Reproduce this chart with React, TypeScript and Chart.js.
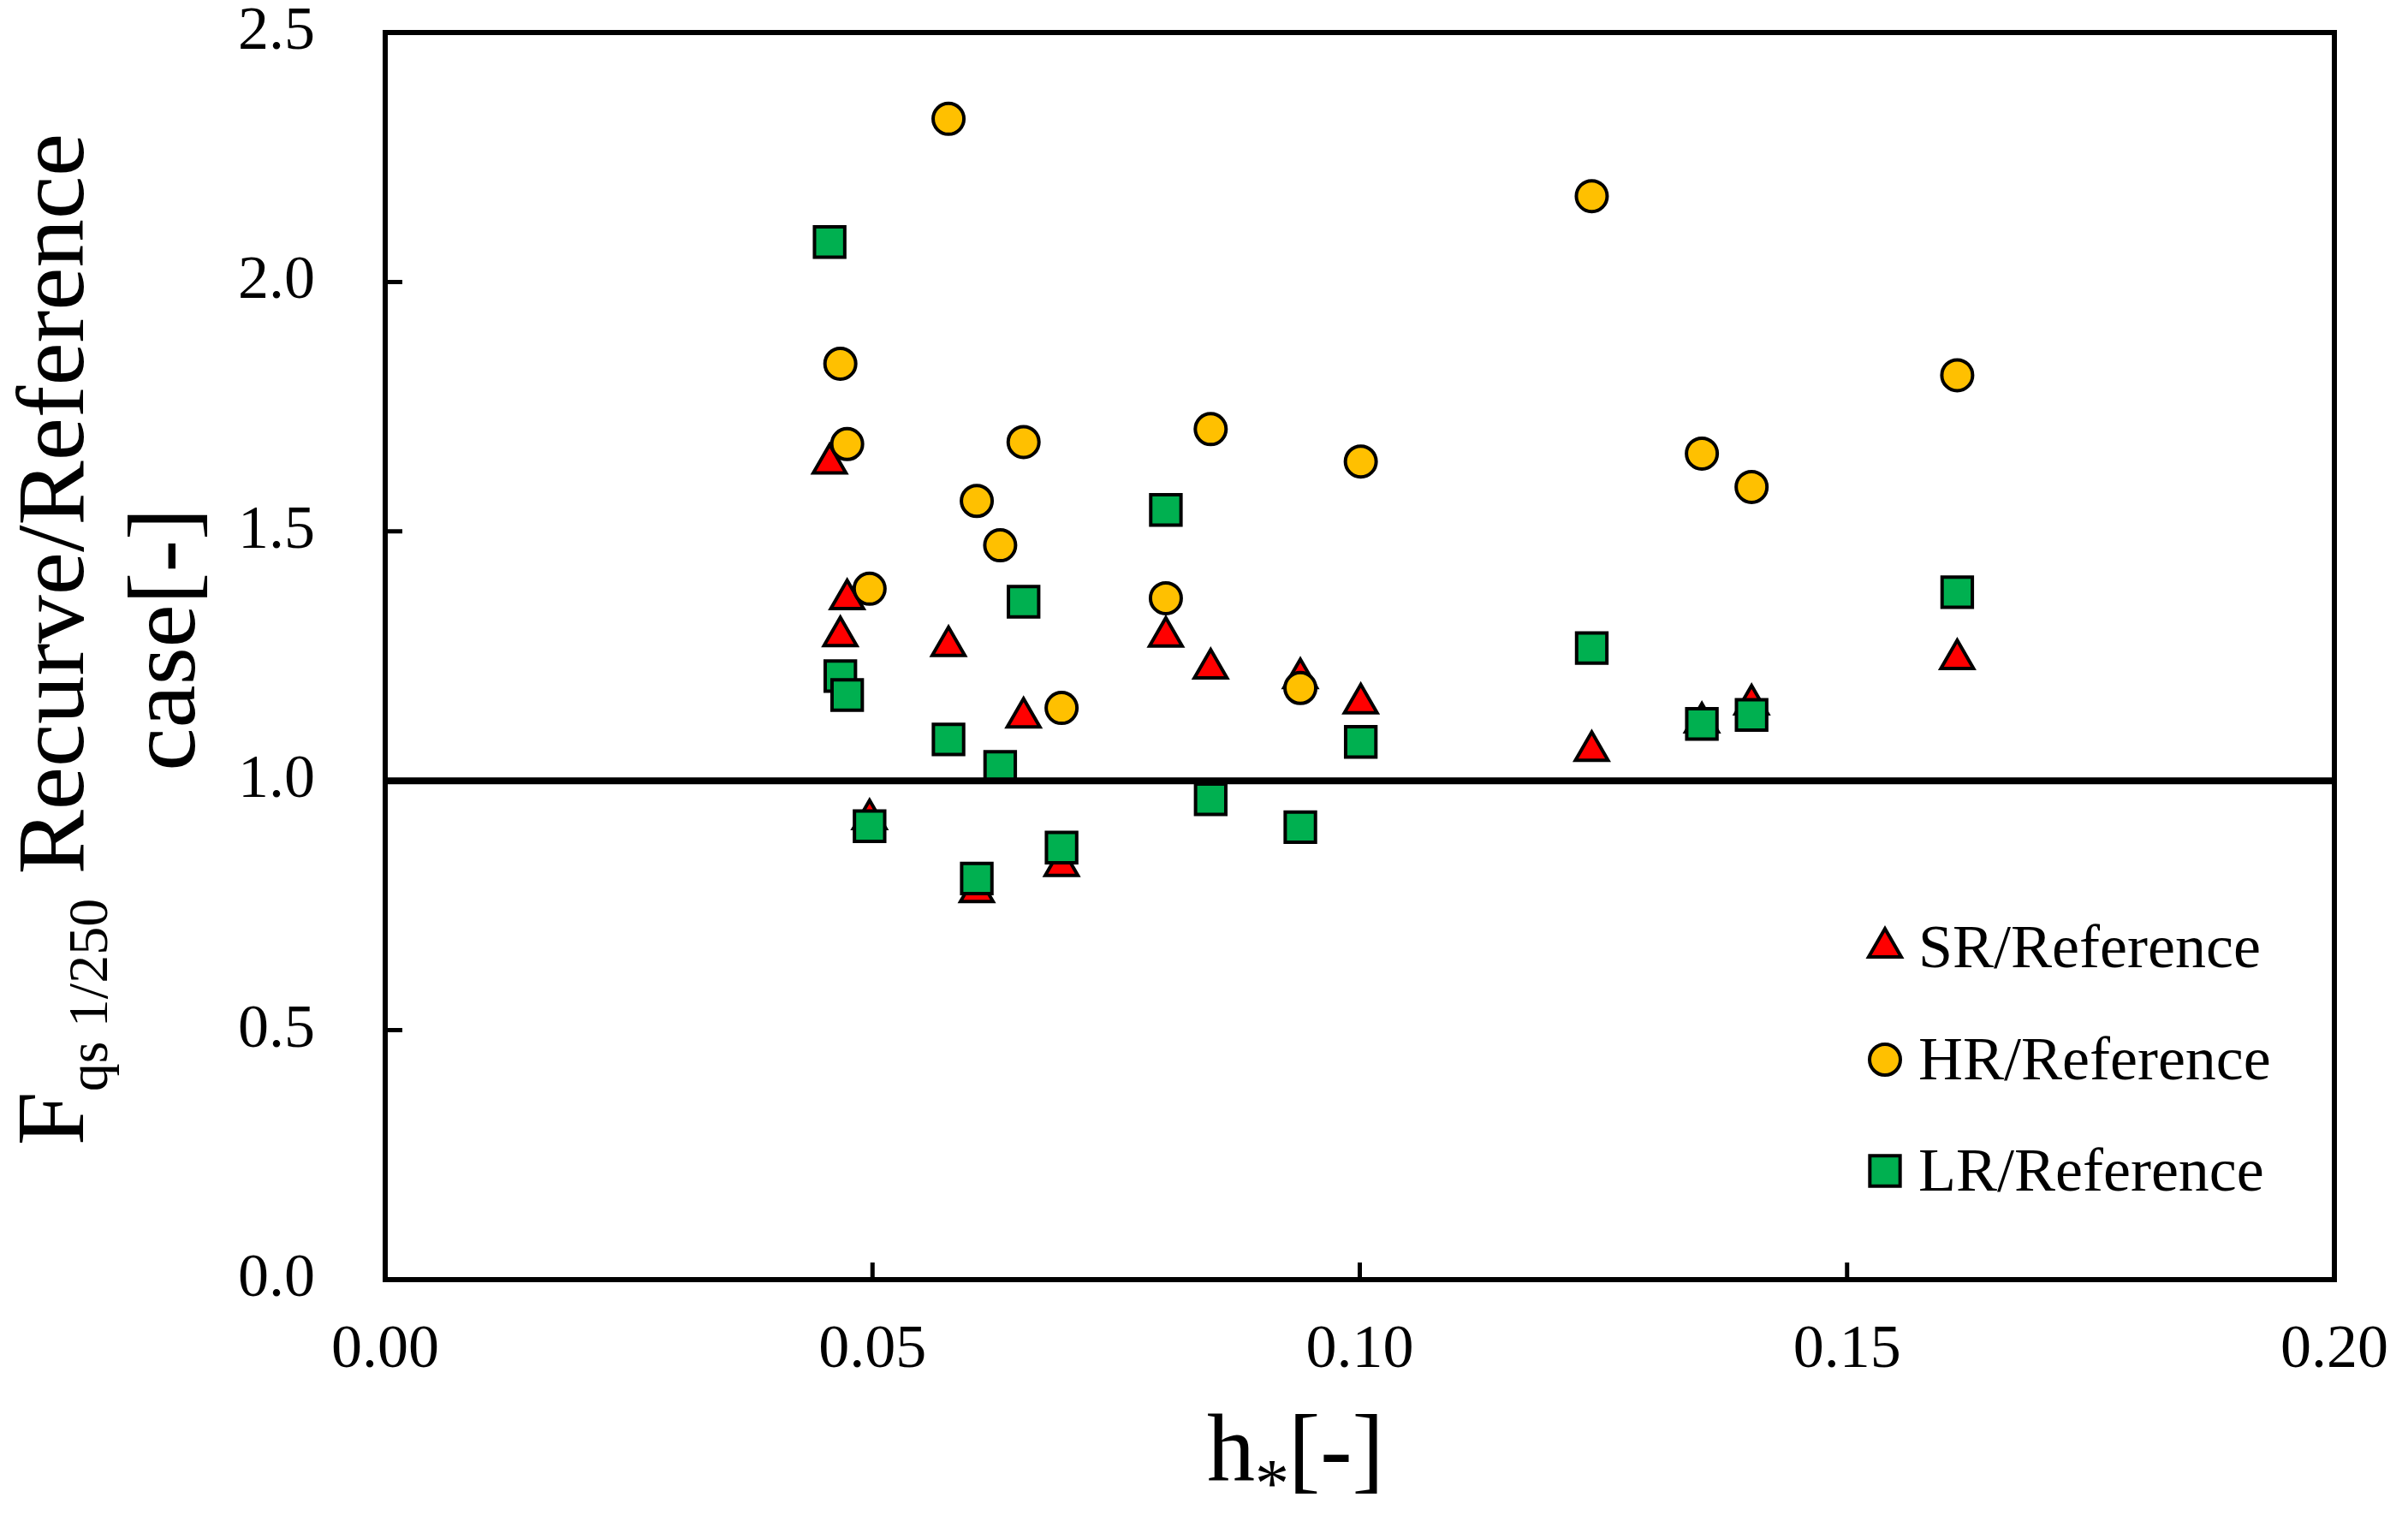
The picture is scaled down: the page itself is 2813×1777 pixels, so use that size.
import { useEffect, useRef } from 'react';
import { Chart, registerables } from 'chart.js';

Chart.register(...registerables);

const W = 2813;
const H = 1777;
const SERIF = "'Liberation Serif', 'Times New Roman', serif";

// h* of every case (shared by the three ratios)
const hStar = [0.0456, 0.0467, 0.0474, 0.0497, 0.0578, 0.0607, 0.0631, 0.0655, 0.0694,
  0.0801, 0.0847, 0.0939, 0.1001, 0.1238, 0.1351, 0.1402, 0.1613];

// Fqs 1/250 ratios, null where there is no mark
const srRatio = [1.636, 1.290, 1.364, 0.923, 1.270, 0.777, null, 1.127, 0.829,
  1.289, 1.225, 1.206, 1.155, 1.060, 1.117, 1.153, 1.244];
const hrRatio = [null, 1.836, 1.675, 1.385, 2.327, 1.561, 1.472, 1.679, 1.146,
  1.366, 1.705, 1.186, 1.640, 2.172, 1.656, 1.589, 1.813];
const lrRatio = [2.080, 1.210, 1.172, 0.909, 1.083, 0.804, 1.028, 1.359, 0.866,
  1.543, 0.963, 0.907, 1.078, 1.266, 1.114, 1.132, 1.378];

const seriesLabels = ['SR/Reference', 'HR/Reference', 'LR/Reference'];
const seriesColors = ['#FF0000', '#FFC000', '#00B050'];
const seriesShapes = ['triangle', 'circle', 'rect'];
const seriesRadius = [22, 18, 25];

const xRange = [0, 0.2];
const yRange = [0, 2.5];
const refLine = [{ x: 0, y: 1 }, { x: 0.2, y: 1 }];

function toPoints(ys: (number | null)[]) {
  return hStar
    .map((x, i) => ({ x, y: ys[i] }))
    .filter((p) => p.y !== null);
}

function marker(ctx: CanvasRenderingContext2D, shape: string, x: number, y: number, r: number) {
  ctx.beginPath();
  if (shape === 'circle') {
    ctx.arc(x, y, r, 0, Math.PI * 2);
  } else if (shape === 'rect') {
    const s = Math.SQRT1_2 * r;
    ctx.rect(x - s, y - s, 2 * s, 2 * s);
  } else {
    ctx.moveTo(x, y - r);
    ctx.lineTo(x + Math.sin((2 * Math.PI) / 3) * r, y + r / 2);
    ctx.lineTo(x - Math.sin((2 * Math.PI) / 3) * r, y + r / 2);
    ctx.closePath();
  }
  ctx.fill();
  ctx.stroke();
}

const framePlugin = {
  id: 'frame',
  afterDatasetsDraw(chart: any) {
    const { ctx, chartArea: a, scales } = chart;
    ctx.save();
    ctx.strokeStyle = '#000';
    ctx.fillStyle = '#000';

    // inward tick marks
    ctx.lineWidth = 5;
    ctx.beginPath();
    scales.x.ticks.forEach((t: any) => {
      const px = scales.x.getPixelForValue(t.value);
      ctx.moveTo(px, a.bottom);
      ctx.lineTo(px, a.bottom - 20);
    });
    scales.y.ticks.forEach((t: any) => {
      const py = scales.y.getPixelForValue(t.value);
      ctx.moveTo(a.left, py);
      ctx.lineTo(a.left + 20, py);
    });
    ctx.stroke();

    ctx.lineWidth = 6;
    ctx.lineJoin = 'miter';
    ctx.strokeRect(a.left, a.top, a.right - a.left, a.bottom - a.top);

    // x title: h* [-]
    ctx.textAlign = 'left';
    ctx.textBaseline = 'alphabetic';
    ctx.font = `112px ${SERIF}`;
    ctx.fillText('h', 1410, 1730);
    ctx.font = `80px ${SERIF}`;
    ctx.fillText('*', 1466, 1760);
    ctx.font = `112px ${SERIF}`;
    ctx.fillText('[-]', 1505, 1730);

    // y title, two lines, rotated
    const yc = 747;
    ctx.save();
    ctx.translate(97, yc);
    ctx.rotate(-Math.PI / 2);
    ctx.font = `113px ${SERIF}`;
    const wF = ctx.measureText('F').width;
    const wRest = ctx.measureText(' Recurve/Reference').width;
    ctx.font = `66px ${SERIF}`;
    const wSub = ctx.measureText('qs 1/250').width;
    const x0 = -(wF + wSub + wRest) / 2;
    ctx.font = `113px ${SERIF}`;
    ctx.fillText('F', x0, 0);
    ctx.fillText(' Recurve/Reference', x0 + wF + wSub, 0);
    ctx.font = `66px ${SERIF}`;
    ctx.fillText('qs 1/250', x0 + wF, 28);
    ctx.restore();

    ctx.save();
    ctx.translate(227, yc);
    ctx.rotate(-Math.PI / 2);
    ctx.font = `113px ${SERIF}`;
    ctx.textAlign = 'center';
    ctx.fillText('case[-]', 0, 0);
    ctx.restore();

    // legend
    const rows = [1107, 1238, 1368];
    ctx.font = `72px ${SERIF}`;
    seriesLabels.forEach((lab, i) => {
      ctx.lineWidth = 4;
      ctx.fillStyle = seriesColors[i];
      marker(ctx, seriesShapes[i], 2202, rows[i], seriesRadius[i]);
      ctx.fillStyle = '#000';
      ctx.fillText(lab, 2241, rows[i] + 23);
    });

    ctx.restore();
  },
};

export default function App() {
  const canvasRef = useRef<HTMLCanvasElement | null>(null);
  const chartRef = useRef<Chart | null>(null);

  useEffect(() => {
    const ctx = canvasRef.current?.getContext('2d');
    if (!ctx) return;

    const pointSets = [srRatio, hrRatio, lrRatio];
    const scatterSets = pointSets.map((ys, i) => ({
      type: 'scatter' as const,
      label: seriesLabels[i],
      data: toPoints(ys),
      pointStyle: seriesShapes[i],
      pointRadius: seriesRadius[i],
      pointBackgroundColor: seriesColors[i],
      pointBorderColor: '#000',
      pointBorderWidth: 4,
      showLine: false,
      order: 3 - i,
    }));

    chartRef.current = new Chart(ctx, {
      type: 'scatter',
      data: {
        datasets: [
          ...scatterSets,
          {
            type: 'line' as const,
            label: 'ratio = 1',
            data: refLine,
            borderColor: '#000',
            borderWidth: 8,
            pointRadius: 0,
            showLine: true,
            order: 0,
          },
        ] as any,
      },
      options: {
        animation: false,
        responsive: false,
        devicePixelRatio: 1,
        layout: { padding: { top: 38, right: 86, left: 0, bottom: 0 } },
        plugins: {
          legend: { display: false },
          tooltip: { enabled: false },
        },
        scales: {
          x: {
            type: 'linear',
            min: xRange[0],
            max: xRange[1],
            grid: { display: false, drawTicks: false },
            border: { display: false },
            ticks: {
              stepSize: 0.05,
              padding: 40,
              color: '#000',
              font: { family: SERIF, size: 72 },
              callback: (v: any) => Number(v).toFixed(2),
            },
            afterFit: (s: any) => {
              s.height = 282;
              s.paddingLeft = 0;
              s.paddingRight = 0;
            },
          },
          y: {
            type: 'linear',
            min: yRange[0],
            max: yRange[1],
            grid: { display: false, drawTicks: false },
            border: { display: false },
            ticks: {
              stepSize: 0.5,
              padding: 82,
              color: '#000',
              font: { family: SERIF, size: 72 },
              callback: (v: any) => Number(v).toFixed(1),
            },
            afterFit: (s: any) => {
              s.width = 450;
              s.paddingTop = 0;
              s.paddingBottom = 0;
            },
          },
        },
      },
      plugins: [framePlugin],
    });

    return () => {
      if (chartRef.current) {
        chartRef.current.destroy();
        chartRef.current = null;
      }
    };
  }, []);

  return (
    <div style={{ position: 'absolute', left: 0, top: 0, width: W, height: H, background: '#fff' }}>
      <canvas ref={canvasRef} width={W} height={H} style={{ width: W, height: H }}></canvas>
    </div>
  );
}
